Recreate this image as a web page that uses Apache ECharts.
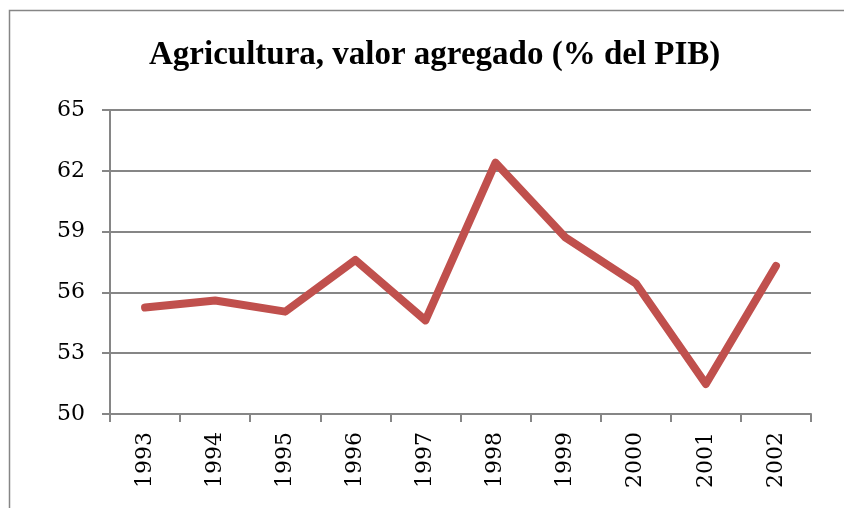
<!DOCTYPE html>
<html lang="es">
<head>
    <meta charset="UTF-8">
    <title>Agricultura</title>
    <style>
        body{margin:0;background:#fff;}
        #main{width:844px;height:508px;}
    </style>
</head>
<body>
    <div id="main"></div>
    <script src="https://cdn.jsdelivr.net/npm/echarts@6/dist/echarts.min.js"></script>
    <script type="text/javascript">
        var years = ['1993','1994','1995','1996','1997','1998','1999','2000','2001','2002'];
        var values = [55.25, 55.6, 55.05, 57.6, 54.62, 62.4, 58.7, 56.45, 51.48, 57.3];
        var yTicks = [50, 53, 56, 59, 62, 65];

        var myChart = echarts.init(document.getElementById('main'));
        var option = {
            animation:false,
            title:{
                text:'Agricultura, valor agregado (% del PIB)',
                left:144,
                top:34,
                textStyle:{
                    fontFamily:'Liberation Serif',
                    fontWeight:'bold',
                    fontSize:33,
                    color:'#000'
                }
            },
            graphic:[{
                type:'rect',
                shape:{x:9.5,y:10.5,width:900,height:600},
                style:{fill:'none',stroke:'#868686',lineWidth:1.5},
                silent:true
            }],
            grid:{
                left:110,
                right:33,
                top:110,
                bottom:94
            },
            xAxis:{
                type:'category',
                data:years,
                boundaryGap:true,
                axisLine:{lineStyle:{color:'#868686',width:2}},
                axisTick:{show:true,length:8,lineStyle:{color:'#868686',width:2}},
                axisLabel:{
                    rotate:90,
                    margin:18,
                    fontFamily:'DejaVu Serif',
                    fontSize:22,
                    color:'#000'
                }
            },
            yAxis:{
                type:'value',
                min:yTicks[0],
                max:yTicks[yTicks.length-1],
                interval:3,
                axisLine:{show:true,lineStyle:{color:'#868686',width:2}},
                axisTick:{show:true,length:8,lineStyle:{color:'#868686',width:2}},
                splitLine:{lineStyle:{color:'#868686',width:2}},
                axisLabel:{
                    margin:25,
                    fontFamily:'DejaVu Serif',
                    fontSize:22,
                    color:'#000'
                }
            },
            series:[{
                type:'line',
                data:values,
                symbol:'none',
                lineStyle:{color:'#C0504D',width:8,join:'round',cap:'round'}
            }]
        };
        myChart.setOption(option);
    </script>
</body>
</html>
